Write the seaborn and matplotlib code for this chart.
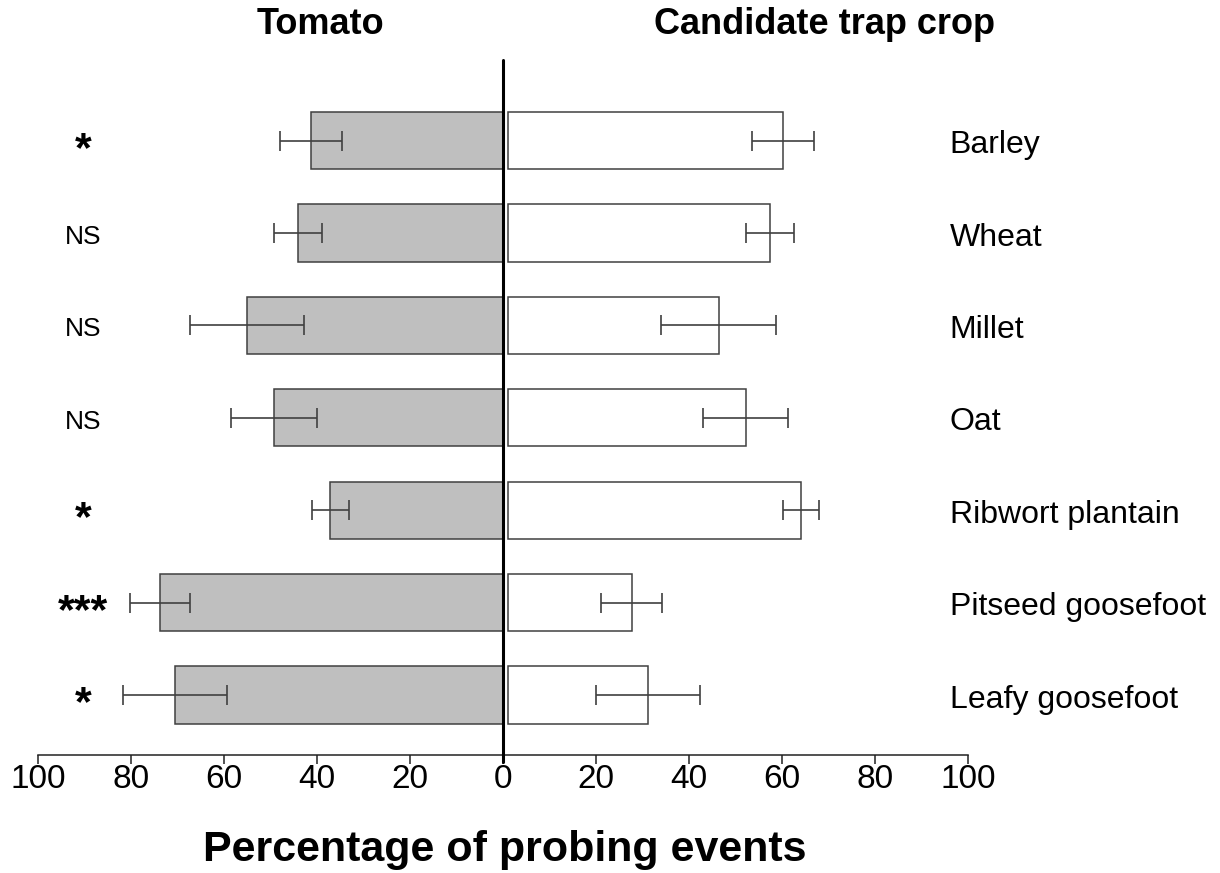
import numpy as np
import pandas as pd
import matplotlib
matplotlib.use("Agg")
import matplotlib.pyplot as plt
import matplotlib.transforms as mtransforms
from matplotlib import font_manager
import seaborn as sns

# ---- data ----
crops = ["Barley", "Wheat", "Millet", "Oat", "Ribwort plantain",
         "Pitseed goosefoot", "Leafy goosefoot"]
tomato_pct = [41.3, 44.1, 55.1, 49.3, 37.1, 73.8, 70.5]
trap_pct = [59.1, 56.3, 45.3, 51.1, 63.0, 26.6, 30.1]
sem = [6.7, 5.2, 12.3, 9.2, 3.9, 6.5, 11.2]
significance = ["*", "NS", "NS", "NS", "*", "***", "*"]
tick_values = [-100, -80, -60, -40, -20, 0, 20, 40, 60, 80, 100]
tick_labels = ["100", "80", "60", "40", "20", "0", "20", "40", "60", "80", "100"]

sns.set_style("white")
installed = {f.name for f in font_manager.fontManager.ttflist}
narrow = "Liberation Sans Narrow" if "Liberation Sans Narrow" in installed else "Liberation Sans"
plt.rcParams["font.family"] = ["Liberation Sans", "DejaVu Sans"]
plt.rcParams["text.color"] = "black"
plt.rcParams["xtick.color"] = "black"

df = pd.DataFrame({
    "crop": crops,
    "tomato": -np.array(tomato_pct),
    "trap": trap_pct,
})

W, H = 1220, 873
fig = plt.figure(figsize=(W / 100, H / 100), dpi=100)
ax = fig.add_axes([38 / W, 118 / H, 930 / W, 695 / H])

bar_w = 0.62
sns.barplot(data=df, y="crop", x="tomato", orient="h", color="#BFBFBF",
            saturation=1, edgecolor="#404040", linewidth=1.1, width=bar_w,
            errorbar=None, ax=ax)
n_left = len(ax.patches)
sns.barplot(data=df, y="crop", x="trap", orient="h", color="white",
            saturation=1, edgecolor="#404040", linewidth=1.1, width=bar_w,
            errorbar=None, ax=ax)

# small gap between the right-hand bars and the centre line
shift = mtransforms.ScaledTranslation(5 / 100, 0, fig.dpi_scale_trans)
for p in ax.patches[n_left:]:
    p.set_transform(ax.transData + shift)

ypos = np.arange(len(crops))
eb_kw = dict(fmt="none", ecolor="#404040", elinewidth=1.2, capsize=7.2,
             capthick=1.2, zorder=4)
ax.errorbar(df["tomato"], ypos, xerr=sem, **eb_kw)
eb = ax.errorbar(df["trap"], ypos, xerr=sem, **eb_kw)
for art in list(eb.lines[1]) + list(eb.lines[2]):
    art.set_transform(ax.transData + shift)

# centre divider
ax.axvline(0, ymin=-0.01, ymax=1, color="black", lw=2.2, zorder=5, clip_on=False)

ax.set_xlim(-100, 100)
ax.set_ylim(6.65, -0.874)
ax.set_xticks(tick_values)
ax.set_xticklabels(tick_labels, family=[narrow, "DejaVu Sans"], fontsize=24)
ax.set_yticks([])
ax.set_ylabel("")
ax.set_xlabel("")
for side in ["left", "right", "top"]:
    ax.spines[side].set_visible(False)
ax.spines["bottom"].set_color("#222222")
ax.spines["bottom"].set_linewidth(1.1)
ax.tick_params(axis="x", direction="out", length=6.5, width=1.1,
               color="#222222", pad=0, bottom=True)

for i, (crop, sig) in enumerate(zip(crops, significance)):
    ax.text(96.1, i + 0.05, crop, ha="left", va="center", fontsize=23,
            color="black", clip_on=False)
    if sig == "NS":
        ax.text(-90.3, i + 0.04, sig, ha="center", va="center",
                fontsize=19, color="black")
    else:
        ax.text(-90.3, i + 0.1, sig, ha="center", va="center",
                fontsize=31, fontweight="bold", color="black")

fig.text(320 / W, 1 - 25 / H, "Tomato", ha="center", va="center",
         fontsize=26, fontweight="bold", family=[narrow, "DejaVu Sans"])
fig.text(825 / W, 1 - 25 / H, "Candidate trap crop", ha="center",
         va="center", fontsize=26, fontweight="bold",
         family=[narrow, "DejaVu Sans"])
fig.text(505 / W, 1 - 850 / H, "Percentage of probing events",
         ha="center", va="center", fontsize=31, fontweight="bold",
         family=[narrow, "DejaVu Sans"])

fig.savefig("out.png", dpi=100, facecolor="white")
